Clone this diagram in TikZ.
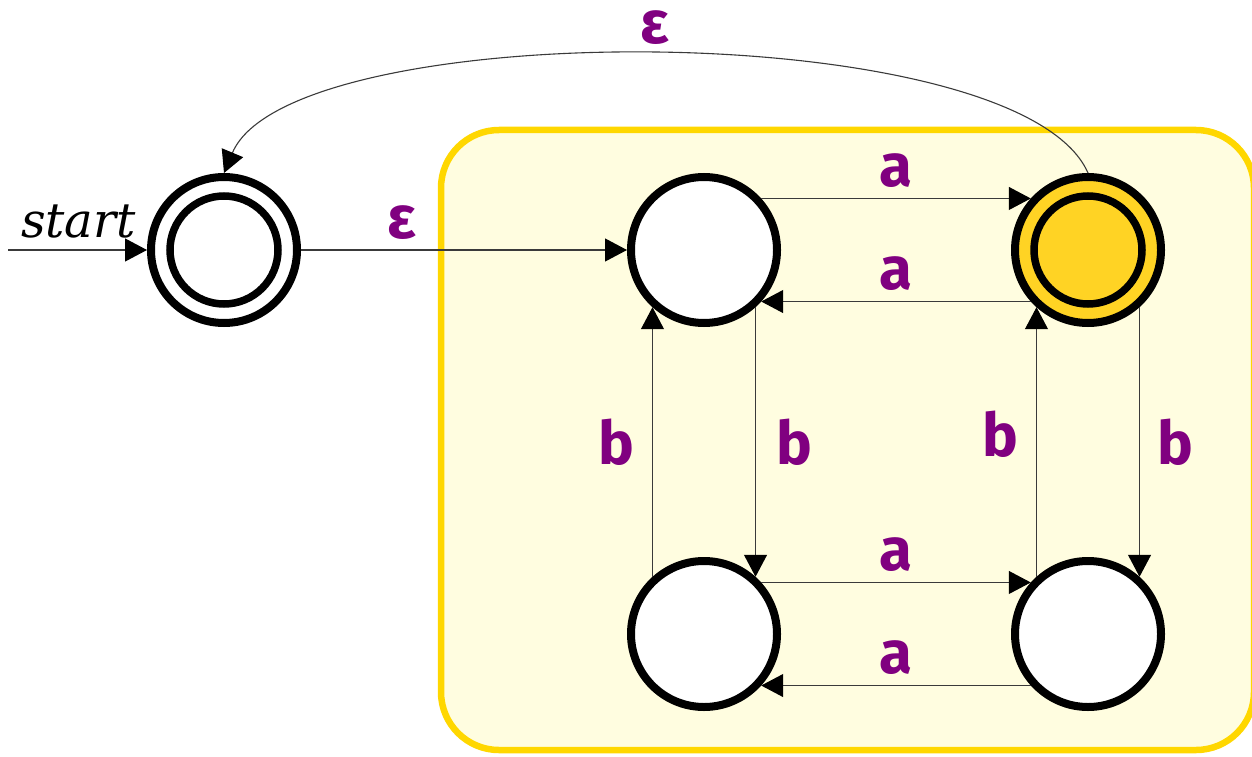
\documentclass[tikz,border=0pt]{standalone}
\usepackage{fontspec}
\usetikzlibrary{arrows.meta}
\newfontfamily\lblfont{Fira Sans}
\newfontfamily\startfont{DejaVu Serif}
\definecolor{lblpurple}{HTML}{800080}
\definecolor{regionfill}{HTML}{FFFDE0}
\definecolor{regiondraw}{HTML}{FFD700}
\definecolor{acceptfill}{HTML}{FFD324}
\definecolor{edgecol}{HTML}{3A3A3A}
\begin{document}
\begin{tikzpicture}[x=1pt,y=-1pt,
  state/.style={circle,draw=black,line width=8pt,fill=white,minimum size=146pt,inner sep=0pt},
  accept/.style={path picture={\draw[line width=7.5pt] (path picture bounding box.center) circle[radius=54pt];}},
  edge/.style={draw=edgecol,line width=1.1pt,-{Triangle[length=22pt,width=23pt,color=black]}},
  lbl/.style={font=\lblfont\bfseries\fontsize{60}{62}\selectfont,text=lblpurple,inner sep=0pt},
  region/.style={draw=regiondraw,fill=regionfill,line width=6.5pt,rounded corners=58pt}]
\useasboundingbox (0,0) rectangle (1252,757);
\begin{scope}
\clip (0,0) rectangle (1252,757);
\draw[region] (441,130) rectangle (1254,750);
\end{scope}
\node[state,accept] (q0) at (224,250) {};
\node[state] (q1) at (704,250) {};
\node[state,accept,fill=acceptfill] (q2) at (1088,250) {};
\node[state] (q3) at (704,634) {};
\node[state] (q4) at (1088,634) {};
\coordinate (init) at (8,250);
\draw[edge] (init) -- node[pos=0.55,above=11pt,font=\startfont\itshape\fontsize{48}{52}\selectfont,inner sep=0pt,xshift=-6pt] {start} (q0);
\draw[edge] (q0) -- node[lbl,pos=0.31,above=10pt] {ε} (q1);
\draw[edge] (q1.42) -- node[lbl,above=10pt] {a} (q2.138);
\draw[edge] (q2.-138) -- node[lbl,above=10pt] {a} (q1.-42);
\draw[edge] (q3.42) -- node[lbl,above=10pt] {a} (q4.138);
\draw[edge] (q4.-138) -- node[lbl,above=10pt] {a} (q3.-42);
\draw[edge] (q1.-48) -- node[lbl,right=20pt] {b} (q3.48);
\draw[edge] (q3.132) -- node[lbl,left=18pt] {b} (q1.-132);
\draw[edge] (q2.-48) -- node[lbl,right=17pt] {b} (q4.48);
\draw[edge] (q4.132) -- node[lbl,left=18pt,pos=0.53] {b} (q2.-132);
\draw[edge] (q2.north) .. controls (1019,15) and (290,15) .. node[lbl,pos=0.5,above=9pt] {ε} (q0.north);
\end{tikzpicture}
\end{document}
